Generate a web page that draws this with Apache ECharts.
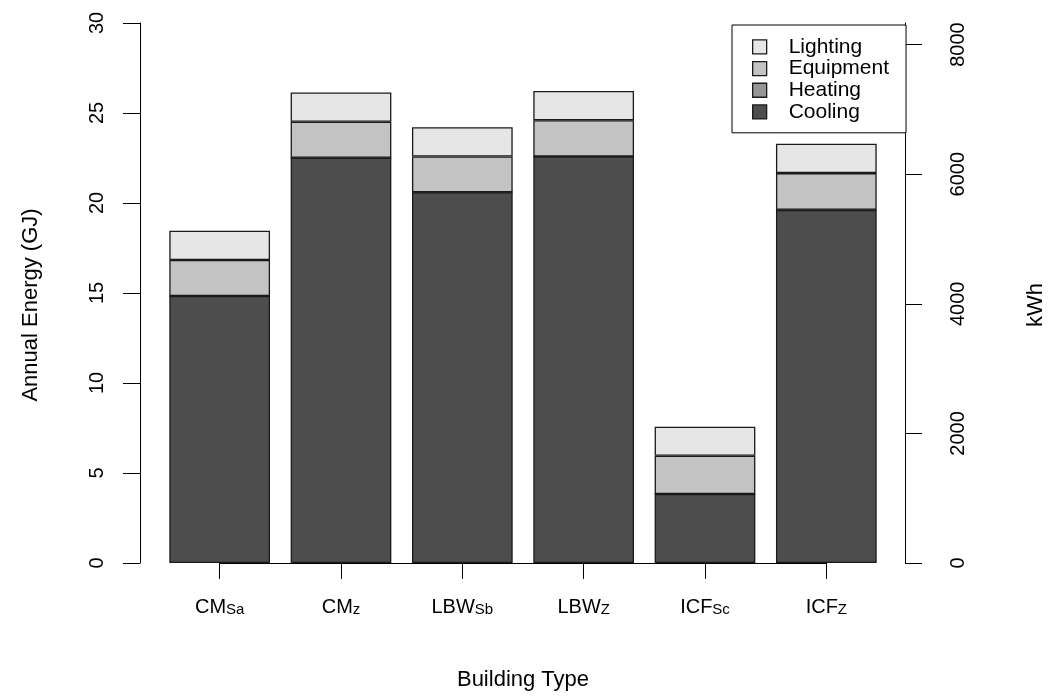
<!DOCTYPE html>
<html>
<head>
<meta charset="utf-8">
<script src="https://cdn.jsdelivr.net/npm/echarts@6/dist/echarts.min.js"></script>
<style>
html,body{margin:0;padding:0;background:#fff;}
#chart{width:1049px;height:696px;}
</style>
</head>
<body>
<div id="chart"></div>
<script>
// Categories: base name and subscript separated by "_"
var categories = ['CM_Sa', 'CM_z', 'LBW_Sb', 'LBW_Z', 'ICF_Sc', 'ICF_Z'];
// Annual energy (GJ) by end use
var cooling   = [14.83, 22.51, 20.60, 22.58, 3.83, 19.62];
var heating   = [0, 0, 0, 0, 0, 0];
var equipment = [2.00, 2.00, 1.98, 2.02, 2.13, 2.04];
var lighting  = [1.63, 1.63, 1.63, 1.62, 1.61, 1.63];
var seriesNames = ['Cooling', 'Heating', 'Equipment', 'Lighting'];
var legendOrder = ['Lighting', 'Equipment', 'Heating', 'Cooling'];
var gjTicks = [0, 5, 10, 15, 20, 25, 30];
var kwhTicks = [0, 2000, 4000, 6000, 8000];
var KWH_PER_GJ = 277.7778;

var colors = {Cooling: '#4d4d4d', Heating: '#969696', Equipment: '#c3c3c3', Lighting: '#e6e6e6'};
var dataBy = {Cooling: cooling, Heating: heating, Equipment: equipment, Lighting: lighting};
var FONT = 'Liberation Sans, Arial, sans-serif';

var chart = echarts.init(document.getElementById('chart'), null, {renderer: 'canvas'});

var series = seriesNames.map(function (n, i) {
  var s = {
    name: n,
    type: 'bar',
    stack: 'total',
    yAxisIndex: 0,
    data: dataBy[n],
    barCategoryGap: '17%',
    itemStyle: {color: colors[n], borderColor: '#1a1a1a', borderWidth: 1.3},
    emphasis: {disabled: true}
  };
  if (i === 0) {
    s.markLine = {
      silent: true,
      symbol: 'none',
      label: {show: false},
      lineStyle: {color: '#000', width: 1, type: 'solid'},
      data: [[{coord: [categories[0], 0]}, {coord: [categories[categories.length - 1], 0]}]]
    };
  }
  return s;
});

var option = {
  animation: false,
  backgroundColor: '#fff',
  textStyle: {fontFamily: FONT},
  grid: {left: 159, right: 162, top: 23, bottom: 133, containLabel: false, outerBoundsMode: 'none'},
  legend: {
    data: legendOrder,
    orient: 'vertical',
    left: 732,
    top: 25,
    padding: [11, 17, 10, 20],
    itemGap: 0,
    itemWidth: 14,
    itemHeight: 14,
    icon: 'rect',
    borderColor: '#000',
    borderWidth: 1,
    backgroundColor: '#fff',
    selectedMode: false,
    itemStyle: {borderColor: '#1a1a1a', borderWidth: 1.3},
    textStyle: {fontFamily: FONT, fontSize: 21, lineHeight: 21.7, color: '#000', padding: [0, 0, 0, 17]}
  },
  xAxis: {
    type: 'category',
    data: categories,
    name: 'Building Type',
    nameLocation: 'middle',
    nameGap: 106,
    nameTextStyle: {fontFamily: FONT, fontSize: 22, color: '#000'},
    axisLine: {show: false},
    axisTick: {show: true, alignWithLabel: true, length: 16, lineStyle: {color: '#000', width: 1}},
    axisLabel: {
      margin: 30,
      color: '#000',
      formatter: function (v) {
        var p = v.split('_');
        return '{m|' + p[0] + '}{s|' + p[1] + '}';
      },
      rich: {
        m: {fontFamily: FONT, fontSize: 20, lineHeight: 24, verticalAlign: 'bottom', color: '#000'},
        s: {fontFamily: FONT, fontSize: 15, lineHeight: 12, verticalAlign: 'bottom', color: '#000'}
      }
    },
    splitLine: {show: false}
  },
  yAxis: [
    {
      type: 'value',
      position: 'left',
      offset: 19,
      min: gjTicks[0],
      max: gjTicks[gjTicks.length - 1],
      interval: 5,
      name: 'Annual Energy (GJ)',
      nameLocation: 'middle',
      nameGap: 98,
      nameRotate: 90,
      nameTextStyle: {fontFamily: FONT, fontSize: 22, color: '#000', padding: [0, 24, 0, 0]},
      axisLine: {show: true, lineStyle: {color: '#000', width: 1}},
      axisTick: {show: true, length: 17, lineStyle: {color: '#000', width: 1}},
      axisLabel: {rotate: 90, margin: 33, fontFamily: FONT, fontSize: 20, color: '#000'},
      splitLine: {show: false}
    },
    {
      type: 'value',
      position: 'right',
      offset: 18,
      min: 0,
      max: gjTicks[gjTicks.length - 1] * KWH_PER_GJ,
      name: 'kWh',
      nameLocation: 'middle',
      nameGap: 120,
      nameRotate: 90,
      nameTextStyle: {fontFamily: FONT, fontSize: 22, color: '#000', padding: [0, 24, 0, 0]},
      axisLine: {show: true, lineStyle: {color: '#000', width: 1}},
      axisTick: {show: true, length: 17, customValues: kwhTicks, lineStyle: {color: '#000', width: 1}},
      axisLabel: {
        rotate: 90, margin: 43, customValues: kwhTicks, fontFamily: FONT, fontSize: 20, color: '#000',
        formatter: function (v) { return String(Math.round(v)); }
      },
      splitLine: {show: false}
    }
  ],
  series: series
};
chart.setOption(option);
</script>
</body>
</html>
